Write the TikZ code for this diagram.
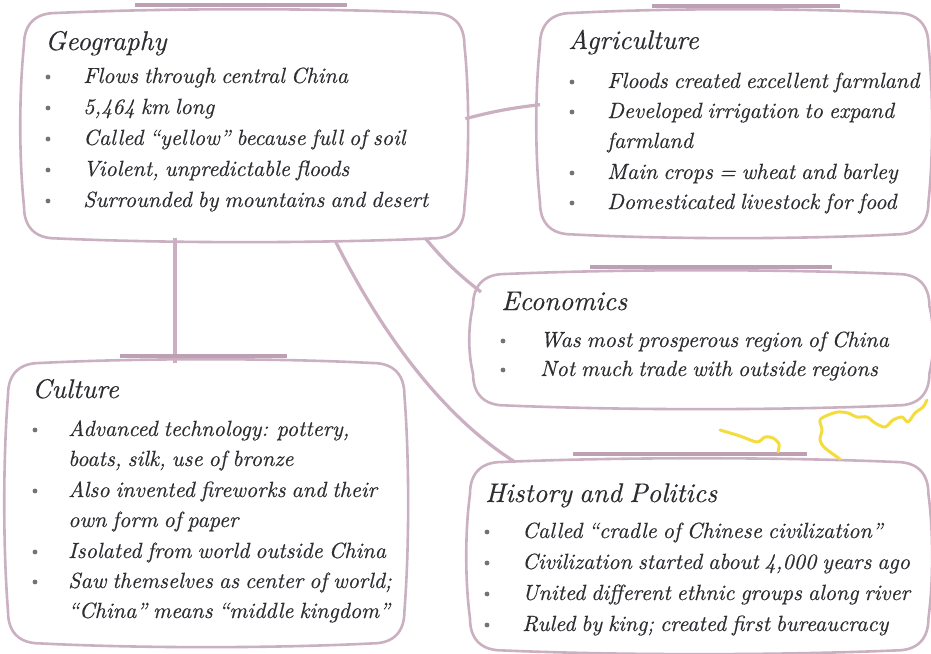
\documentclass[tikz,border=0pt]{standalone}
\usepackage{fontspec}
\newfontfamily\hand{lmroman10-italic.otf}[FakeBold=0.35,WordSpace=0.75]
\usetikzlibrary{calc}
\definecolor{mauve}{RGB}{203,176,194}
\definecolor{mauvedark}{RGB}{190,160,180}
\definecolor{ink}{RGB}{45,45,50}
\definecolor{dotc}{RGB}{115,115,115}
\definecolor{squig}{RGB}{244,220,60}
\tikzset{
  boxarea/.style={draw=none,rectangle,inner sep=0pt,anchor=north west},
  boxline/.style={draw=mauve,line width=2.6pt},
  topbar/.style={draw=mauvedark,line width=3.6pt},
  conn/.style={draw=mauve,line width=3.2pt},
  ttl/.style={anchor=base west,inner sep=0pt,text=ink,font=\hand\fontsize{27}{30}\selectfont},
  itm/.style={anchor=base west,inner sep=0pt,text=ink,font=\hand\fontsize{22}{30}\selectfont},
  squiggle/.style={draw=squig,line width=3pt,line cap=round,line join=round},
}
\newcommand\pillow[1]{%
  \draw[boxline] let \p1=(#1.north west), \p2=(#1.south east), \n1={32pt}, \n2={5pt} in
   (\x1,\y1-\n1) .. controls (\x1,\y1-0.35*\n1) and (\x1+0.35*\n1,\y1) .. (\x1+\n1,\y1)
   .. controls ({\x1+\n1+0.3*(\x2-\x1-2*\n1)},\y1+\n2) and ({\x2-\n1-0.3*(\x2-\x1-2*\n1)},\y1+\n2) .. (\x2-\n1,\y1)
   .. controls (\x2-0.35*\n1,\y1) and (\x2,\y1-0.35*\n1) .. (\x2,\y1-\n1)
   .. controls ({\x2+\n2},{\y1-\n1-0.3*(\y1-\y2-2*\n1)}) and ({\x2+\n2},{\y2+\n1+0.3*(\y1-\y2-2*\n1)}) .. (\x2,\y2+\n1)
   .. controls (\x2,\y2+0.35*\n1) and (\x2-0.35*\n1,\y2) .. (\x2-\n1,\y2)
   .. controls ({\x2-\n1-0.3*(\x2-\x1-2*\n1)},\y2-\n2) and ({\x1+\n1+0.3*(\x2-\x1-2*\n1)},\y2-\n2) .. (\x1+\n1,\y2)
   .. controls (\x1+0.35*\n1,\y2) and (\x1,\y2+0.35*\n1) .. (\x1,\y2+\n1)
   .. controls ({\x1-\n2},{\y2+\n1+0.3*(\y1-\y2-2*\n1)}) and ({\x1-\n2},{\y1-\n1-0.3*(\y1-\y2-2*\n1)}) .. cycle;}
\newcommand\bul[2]{\fill[dotc] (#1,#2-6) circle (2.4pt);}
\begin{document}
\begin{tikzpicture}[x=1pt,y=-1pt]
\useasboundingbox (0,0) rectangle (931,653);
\fill[white] (0,0) rectangle (931,653);

% box areas
\node[boxarea,minimum width=440pt,minimum height=225pt] (geo) at (24,13) {};
\node[boxarea,minimum width=388pt,minimum height=221pt] (agri) at (540,13) {};
\node[boxarea,minimum width=456pt,minimum height=131pt] (econ) at (473,274) {};
\node[boxarea,minimum width=396pt,minimum height=280pt] (cult) at (8,363) {};
\node[boxarea,minimum width=458pt,minimum height=188pt] (hist) at (470,462) {};

% connectors
\draw[conn] ([xshift=1pt,yshift=7pt]geo.east) to[bend left=4] ([yshift=19pt]agri.west);
\draw[conn] ([xshift=-39pt]geo.south east) to[bend right=6] ([xshift=8pt,yshift=-18pt]econ.north west);
\draw[conn] ([xshift=151pt]geo.south west) -- ([xshift=167pt]cult.north west);
\draw[conn] ([xshift=311pt,yshift=-2pt]geo.south west) .. controls (365,300) and (425,405) .. ([xshift=45pt]hist.north west);

% outlines
\pillow{geo}\pillow{agri}\pillow{econ}\pillow{cult}\pillow{hist}
\draw[topbar] (135,5) -- (347,5);
\draw[topbar] (652,6) -- (840,6);
\draw[topbar] (590,267) -- (832,267);
\draw[topbar] (120,356) -- (287,356);
\draw[topbar] (573,454) -- (807,454);

% squiggles
\draw[squiggle] plot[smooth] coordinates {(720,430) (740,436) (757,442) (765,437) (773,438) (779,444) (778,452)};
\draw[squiggle] plot[smooth] coordinates {(840,459) (825,448) (820,440) (822,430) (820,420) (828,415) (838,412) (848,413) (857,417) (867,417) (875,423) (885,427) (893,420) (902,417) (908,422) (915,413) (923,407) (927,400)};

% Geography
\node[ttl] (gt) at (45,50) {Geography};
\bul{48}{83}\node[itm] (g1) at (83,83) {Flows through central China};
\bul{48}{114}\node[itm] (g2) at (83,114) {5,464 km long};
\bul{48}{145}\node[itm] (g3) at (83,145) {Called “yellow” because full of soil};
\bul{48}{176}\node[itm] (g4) at (83,176) {Violent, unpredictable floods};
\bul{48}{207}\node[itm] (g5) at (83,207) {Surrounded by mountains and desert};

% Agriculture
\node[ttl] (at) at (568,49) {Agriculture};
\bul{572}{88}\node[itm] (a1) at (607,88) {Floods created excellent farmland};
\bul{572}{118}\node[itm] (a2) at (607,118) {Developed irrigation to expand};
\node[itm] (a3) at (607,148) {farmland};
\bul{572}{179}\node[itm] (a4) at (607,179) {Main crops = wheat and barley};
\bul{572}{209}\node[itm] (a5) at (607,209) {Domesticated livestock for food};

% Economics
\node[ttl] (et) at (501,310) {Economics};
\bul{503}{347}\node[itm] (e1) at (540,347) {Was most prosperous region of China};
\bul{503}{376}\node[itm] (e2) at (540,376) {Not much trade with outside regions};

% Culture
\node[ttl] (ct) at (32,398) {Culture};
\bul{35}{436}\node[itm] (c1) at (68,436) {Advanced technology: pottery,};
\node[itm] (c2) at (68,466) {boats, silk, use of bronze};
\bul{35}{497}\node[itm] (c3) at (68,497) {Also invented fireworks and their};
\node[itm] (c4) at (68,527) {own form of paper};
\bul{35}{558}\node[itm] (c5) at (68,558) {Isolated from world outside China};
\bul{35}{588}\node[itm] (c6) at (68,588) {Saw themselves as center of world;};
\node[itm] (c7) at (68,618) {“China” means “middle kingdom”};

% History and Politics
\node[ttl] (ht) at (485,502) {History and Politics};
\bul{487}{538}\node[itm] (h1) at (522,538) {Called “cradle of Chinese civilization”};
\bul{487}{569}\node[itm] (h2) at (522,569) {Civilization started about 4,000 years ago};
\bul{487}{600}\node[itm] (h3) at (522,600) {United different ethnic groups along river};
\bul{487}{631}\node[itm] (h4) at (522,631) {Ruled by king; created first bureaucracy};
\end{tikzpicture}
\end{document}
